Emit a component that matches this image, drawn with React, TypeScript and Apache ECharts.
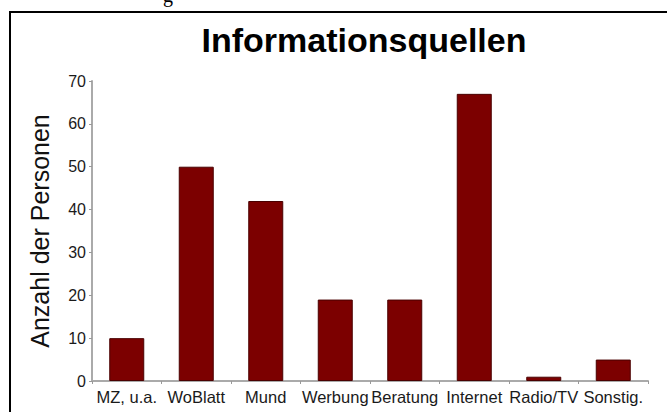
import React, { useEffect, useRef } from "react";
import * as echarts from "echarts";

const categories = ["MZ, u.a.", "WoBlatt", "Mund", "Werbung", "Beratung", "Internet", "Radio/TV", "Sonstig."];
const counts = [10, 50, 42, 19, 19, 67, 1, 5];
const yTicks = { min: 0, max: 70, interval: 10 };
const titleText = "Informationsquellen";
const yAxisName = "Anzahl der Personen";

export default function App() {
  const ref = useRef<HTMLDivElement>(null);
  useEffect(() => {
    if (!ref.current) return;
    const chart = echarts.init(ref.current, null, { renderer: "svg" });
    const font = "'Liberation Sans', Arial, sans-serif";
    chart.setOption({
      animation: false,
      backgroundColor: "#ffffff",
      title: {
        text: titleText,
        left: 359,
        textAlign: "center",
        top: 18,
        textStyle: { fontFamily: font, fontSize: 34, fontWeight: "bold", color: "#000" },
      },
      graphic: [
        {
          type: "rect",
          shape: { x: 10, y: 12, width: 700, height: 420 },
          style: { fill: "none", stroke: "#000", lineWidth: 2 },
          silent: true,
          z: 100,
        },
        {
          type: "text",
          x: 163,
          y: -15,
          style: { text: "g", font: "20px 'Liberation Serif', serif", fill: "#000" },
          silent: true,
        },
      ],
      grid: { left: 92, right: 19, top: 81, bottom: 31, containLabel: false },
      xAxis: {
        type: "category",
        data: categories,
        boundaryGap: true,
        axisLine: { show: true, lineStyle: { color: "#aaaaaa", width: 2 } },
        axisTick: { show: true, length: 3, alignWithLabel: false, lineStyle: { color: "#999999", width: 1 } },
        axisLabel: { interval: 0, margin: 7, fontFamily: font, fontSize: 16.5, color: "#1a1a1a" },
        splitLine: { show: false },
      },
      yAxis: {
        type: "value",
        min: yTicks.min,
        max: yTicks.max,
        interval: yTicks.interval,
        name: yAxisName,
        nameLocation: "middle",
        nameGap: 40,
        nameRotate: 90,
        nameTextStyle: { fontFamily: font, fontSize: 25, color: "#111" },
        axisLine: { show: true, lineStyle: { color: "#aaaaaa", width: 2 } },
        axisTick: { show: true, length: 3, lineStyle: { color: "#999999", width: 1 } },
        axisLabel: { margin: 6, fontFamily: font, fontSize: 16, color: "#1a1a1a" },
        splitLine: { show: false },
      },
      series: [
        {
          type: "bar",
          data: counts,
          barWidth: 35,
          itemStyle: { color: "#7c0000", borderColor: "#4a0000", borderWidth: 1 },
        },
      ],
    });
    return () => chart.dispose();
  }, []);
  return (
    <div
      ref={ref}
      style={{ position: "fixed", left: 0, top: 0, width: 667, height: 412 }}
    />
  );
}
